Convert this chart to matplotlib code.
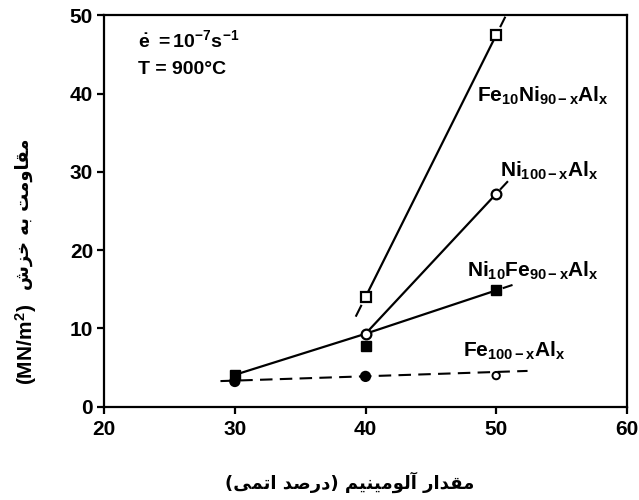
import matplotlib
matplotlib.use('Agg')
import matplotlib.pyplot as plt

plt.rcParams['font.family'] = ['Liberation Sans', 'DejaVu Sans']
plt.rcParams['font.weight'] = 'bold'
plt.rcParams['mathtext.fontset'] = 'custom'
plt.rcParams['mathtext.rm'] = 'Liberation Sans:bold'
plt.rcParams['mathtext.it'] = 'Liberation Sans:bold'
plt.rcParams['mathtext.bf'] = 'Liberation Sans:bold'

# measured creep resistance (MN/m^2) vs. Al content (at.%)
fe10ni_x = [40, 50]
fe10ni_y = [14.0, 47.5]
ni_x = [40, 50]
ni_y = [9.3, 27.2]
ni10fe_x = [30, 40, 50]
ni10fe_y = [4.05, 7.7, 14.85]
fe_x = [30, 40, 50]
fe_y = [3.2, 3.85, 3.95]
fe_fill = ['black', 'black', 'white']
fe_size = [45, 45, 28]

# hand-drawn trend lines through the points
ni_trend_x = [30, 40, 50]
ni_trend_y = [4.05, 9.3, 27.2]
ni10fe_trend_x = [40, 50]
ni10fe_trend_y = [9.3, 14.85]
fe10ni_trend_x = [40, 50]
fe10ni_trend_y = [14.0, 47.5]
fe_trend_x = [28.9, 52.4]
fe_trend_y = [3.25, 4.55]

xticks = [20, 30, 40, 50, 60]
yticks = [0, 10, 20, 30, 40, 50]

xlabel_fa = 'مقدار آلومینیم (درصد اتمی)'
ylabel_fa = 'مقاومت به خزش'

# presentation forms: isolated, final, initial, medial
FORMS = {
    'ا': ('\ufe8d', '\ufe8e'),
    'آ': ('\ufe81', '\ufe82'),
    'د': ('\ufea9', '\ufeaa'),
    'ر': ('\ufead', '\ufeae'),
    'ز': ('\ufeaf', '\ufeb0'),
    'و': ('\ufeed', '\ufeee'),
    'ب': ('\ufe8f', '\ufe90', '\ufe91', '\ufe92'),
    'ت': ('\ufe95', '\ufe96', '\ufe97', '\ufe98'),
    'خ': ('\ufea5', '\ufea6', '\ufea7', '\ufea8'),
    'ش': ('\ufeb5', '\ufeb6', '\ufeb7', '\ufeb8'),
    'ص': ('\ufeb9', '\ufeba', '\ufebb', '\ufebc'),
    'ق': ('\ufed5', '\ufed6', '\ufed7', '\ufed8'),
    'ل': ('\ufedd', '\ufede', '\ufedf', '\ufee0'),
    'م': ('\ufee1', '\ufee2', '\ufee3', '\ufee4'),
    'ن': ('\ufee5', '\ufee6', '\ufee7', '\ufee8'),
    'ه': ('\ufee9', '\ufeea', '\ufeeb', '\ufeec'),
    'ی': ('\ufbfc', '\ufbfd', '\ufbfe', '\ufbff'),
}
MIRROR = {'(': ')', ')': '('}


def shape_fa(s):
    # join letters and put them in visual (left-to-right) order
    out = []
    for i, ch in enumerate(s):
        f = FORMS.get(ch)
        if f is None:
            out.append(MIRROR.get(ch, ch))
            continue
        prev = FORMS.get(s[i - 1]) if i > 0 else None
        nxt = s[i + 1] if i + 1 < len(s) else ''
        join_prev = prev is not None and len(prev) == 4
        join_next = len(f) == 4 and nxt in FORMS
        if join_prev and join_next:
            out.append(f[3])
        elif join_prev:
            out.append(f[1])
        elif join_next:
            out.append(f[2])
        else:
            out.append(f[0])
    return ''.join(reversed(out))


def tail(ax, x, y, a, b, start=True):
    # short dash continuing a trend line past its first/last point
    if start:
        x0, y0, x1, y1 = x[1], y[1], x[0], y[0]
    else:
        x0, y0, x1, y1 = x[-2], y[-2], x[-1], y[-1]
    dx, dy = x1 - x0, y1 - y0
    ax.plot([x1 + a * dx, x1 + b * dx], [y1 + a * dy, y1 + b * dy],
            color='black', lw=1.5, solid_capstyle='butt', zorder=2)


fig = plt.figure(figsize=(6.39, 5.0), dpi=100)
ax = fig.add_axes([0.163, 0.187, 0.818, 0.782])

lw = 1.6
ax.plot(ni_trend_x, ni_trend_y, color='black', lw=lw, zorder=2)
ax.plot(ni10fe_trend_x, ni10fe_trend_y, color='black', lw=lw, zorder=2)
ax.plot(fe10ni_trend_x, fe10ni_trend_y, color='black', lw=lw, zorder=2)
ax.plot(fe_trend_x, fe_trend_y, color='black', lw=1.5, ls=(0, (6, 3.5)), zorder=2)

tail(ax, fe10ni_trend_x, fe10ni_trend_y, 0.03, 0.075, start=True)
tail(ax, fe10ni_trend_x, fe10ni_trend_y, 0.03, 0.07, start=False)
tail(ax, ni_trend_x, ni_trend_y, 0.03, 0.09, start=False)
tail(ax, ni10fe_trend_x, ni10fe_trend_y, 0.05, 0.125, start=False)

ax.plot(fe10ni_x, fe10ni_y, ls='none', marker='s', ms=7, mew=1.6,
        mfc='white', mec='black', zorder=4)
ax.plot(ni_x, ni_y, ls='none', marker='o', ms=7, mew=1.6,
        mfc='white', mec='black', zorder=4)
ax.plot(ni10fe_x, ni10fe_y, ls='none', marker='s', ms=7.5,
        color='black', zorder=5)
ax.scatter(fe_x, fe_y, s=fe_size, marker='o', facecolors=fe_fill,
           edgecolors='black', linewidths=1.4, zorder=4)

lab = dict(fontsize=15, ha='left', va='baseline')
ax.text(48.5, 39.0, r'$Fe_{10}Ni_{90-x}Al_x$', **lab)
ax.text(50.3, 29.4, r'$Ni_{100-x}Al_x$', **lab)
ax.text(47.8, 16.6, r'$Ni_{10}Fe_{90-x}Al_x$', **lab)
ax.text(47.45, 6.4, r'$Fe_{100-x}Al_x$', **lab)

ax.text(22.6, 45.9, r'$\dot{e}\ =10^{-7}s^{-1}$', fontsize=14, ha='left', va='baseline')
ax.text(22.6, 42.5, 'T = 900°C', fontsize=14, weight='bold', ha='left', va='baseline')

ax.set_xlim(20, 60)
ax.set_ylim(0, 50)
ax.set_xticks(xticks)
ax.set_yticks(yticks)
ax.tick_params(direction='out', length=5, width=1.6, labelsize=15, pad=3)
ax.tick_params(axis='x', pad=5)
for lbl in ax.get_xticklabels() + ax.get_yticklabels():
    lbl.set_fontweight('bold')
for sp in ax.spines.values():
    sp.set_linewidth(1.6)

fig.text(350 / 639, 1 - 482 / 500, shape_fa(xlabel_fa), family='DejaVu Sans',
         weight='bold', fontsize=13, ha='center', va='center')
fig.text(26 / 639, 1 - 344 / 500, r'$(MN/m^2)$', fontsize=15,
         rotation=90, ha='center', va='center')
fig.text(24 / 639, 1 - 214 / 500, shape_fa(ylabel_fa), family='DejaVu Sans',
         weight='bold', fontsize=13, rotation=90, ha='center', va='center')

fig.savefig('out.png', dpi=100)
